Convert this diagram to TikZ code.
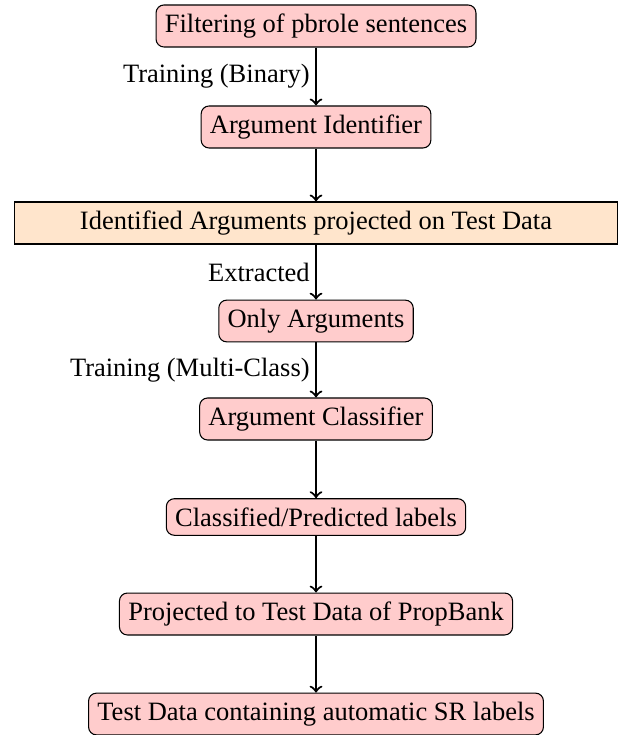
\documentclass[tikz,border=0pt]{standalone}
\usepackage{fontspec}
\setmainfont{Liberation Serif}
\begin{document}
\begin{tikzpicture}[x=0.3776pt,y=-0.3776pt,
  procbox/.style={draw=black, fill=red!20, rounded corners=3pt, inner sep=3.333pt},
  databox/.style={draw=black, fill=orange!20, minimum width=228pt, inner sep=3.333pt},
  flow/.style={->, thick},
  lbl/.style={left, inner sep=2pt}]
\useasboundingbox (0,0) rectangle (621,735);
\node[procbox] (n1) at (316,26) {Filtering of pbrole sentences};
\node[procbox] (n2) at (316,127) {Argument Identifier};
\node[databox] (n3) at (316,223) {Identified Arguments projected on Test Data};
\node[procbox] (n4) at (316,321) {Only Arguments};
\node[procbox] (n5) at (316,419) {Argument Classifier};
\node[procbox] (n6) at (316,517) {Classified/Predicted labels};
\node[procbox] (n7) at (316,614) {Projected to Test Data of PropBank};
\node[procbox] (n8) at (316,714) {Test Data containing automatic SR labels};
\draw[flow] (n1) -- node[lbl] {Training (Binary)} (n2);
\draw[flow] (n2) -- (n3);
\draw[flow] (n3) -- node[lbl] {Extracted} (n4);
\draw[flow] (n4) -- node[lbl] {Training (Multi-Class)} (n5);
\draw[flow] (n5) -- (n6);
\draw[flow] (n6) -- (n7);
\draw[flow] (n7) -- (n8);
\end{tikzpicture}
\end{document}
